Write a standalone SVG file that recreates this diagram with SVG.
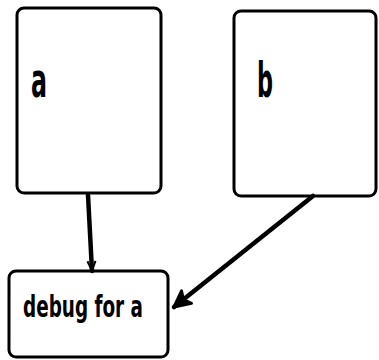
<svg xmlns="http://www.w3.org/2000/svg" width="379" height="360" viewBox="0 0 379 360">
  <style>
    .box { fill: #ffffff; stroke: #000000; stroke-width: 3; }
    .label { font-family: "DejaVu Sans Condensed", "DejaVu Sans", sans-serif; font-weight: bold; fill: #000000; }
    .edge { fill: none; stroke: #000000; stroke-width: 4.5; stroke-linecap: round; }
  </style>
  <defs>
    <marker id="head" markerUnits="userSpaceOnUse" markerWidth="22" markerHeight="22" viewBox="0 0 22 22" refX="19" refY="11" orient="auto">
      <path d="M3,3 L19,11 L3,19 L7,11 Z" fill="#000000" stroke="#000000" stroke-width="3" stroke-linejoin="round"/>
    </marker>
    <marker id="headSmall" markerUnits="userSpaceOnUse" markerWidth="14" markerHeight="14" viewBox="0 0 14 14" refX="12" refY="7" orient="auto">
      <path d="M2,3 L12,7 L2,11" fill="none" stroke="#000000" stroke-width="2"/>
    </marker>
  </defs>

  <g id="node-a">
    <rect class="box" x="17" y="8" width="144" height="185" rx="7"/>
    <text class="label" x="31" y="97" font-size="48" textLength="16" lengthAdjust="spacingAndGlyphs">a</text>
  </g>

  <g id="node-b">
    <rect class="box" x="234" y="11" width="142" height="185" rx="7"/>
    <text class="label" x="257" y="97" font-size="48" textLength="16" lengthAdjust="spacingAndGlyphs">b</text>
  </g>

  <g id="node-debug">
    <rect class="box" x="9" y="271" width="159" height="86" rx="7"/>
    <text class="label" x="23" y="317" font-size="31" textLength="120" lengthAdjust="spacingAndGlyphs">debug for a</text>
  </g>

  <g id="connectors">
    <line class="edge" x1="88" y1="195" x2="92" y2="271" marker-end="url(#headSmall)"/>
    <line class="edge" x1="313" y1="196" x2="174" y2="307" marker-end="url(#head)"/>
  </g>
</svg>
